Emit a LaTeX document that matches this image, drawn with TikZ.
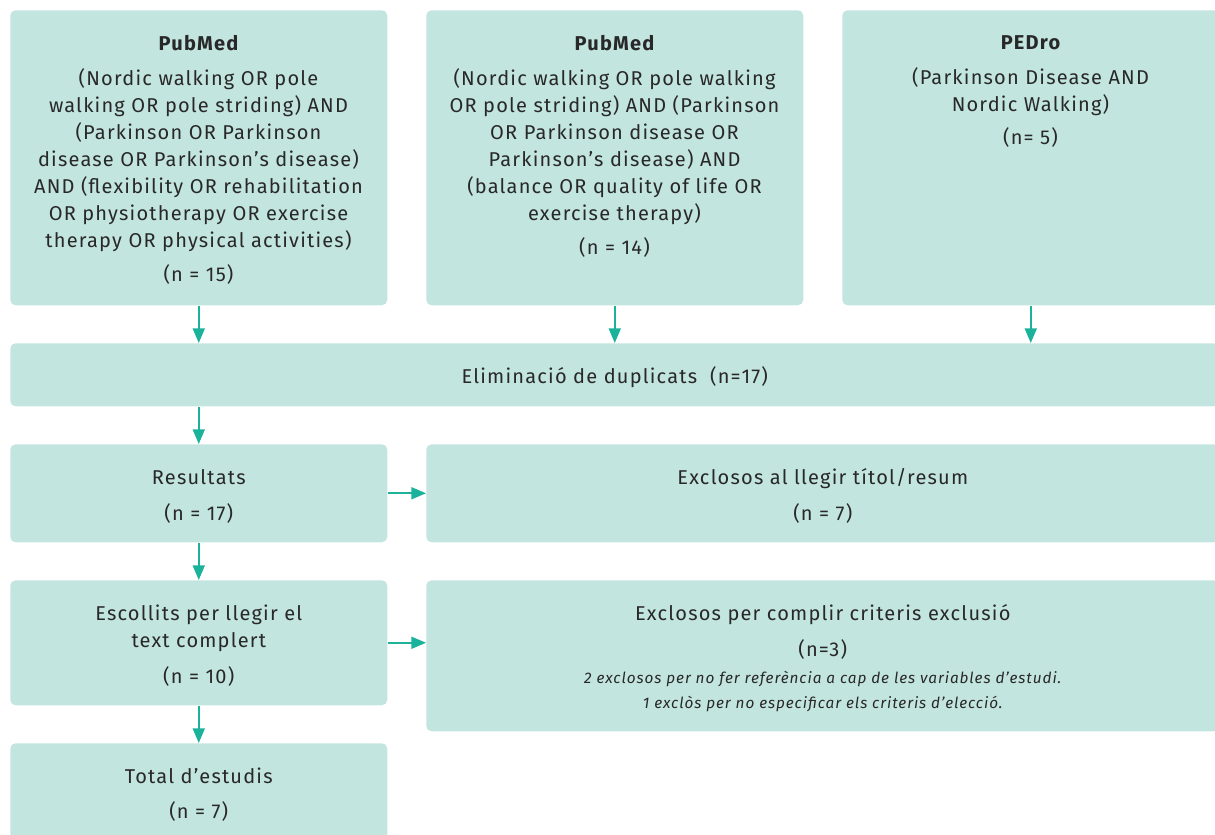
\documentclass[tikz,border=0pt]{standalone}
\usepackage{fontspec}
\setmainfont{Fira Sans}[LetterSpace=6]
\usetikzlibrary{arrows.meta}
\definecolor{boxfill}{RGB}{195,229,223}
\definecolor{flow}{RGB}{26,178,155}
\definecolor{ink}{RGB}{40,40,40}
\newcommand\exclnote{\fontsize{11.5}{18.75}\selectfont\itshape}% nota en cursiva
\newcommand\lowr{\rule{0pt}{16pt}}% baixa una mica el text
\tikzset{
  box/.style = {rectangle, rounded corners=4pt, fill=boxfill, draw=none,
    inner sep=0pt, anchor=north west, align=center, text=ink,
    font=\fontsize{15}{20.25}\selectfont},% caixa de fons
  topbox/.style = {box, minimum width=282.75pt, minimum height=221.25pt},% cerca
  sidebox/.style = {box, minimum width=594.75pt},% exclosos
  txt/.style = {align=center, inner sep=0pt, text=ink,
    font=\fontsize{15}{20.25}\selectfont}% text de les cerques
}

\begin{document}
\begin{tikzpicture}[x=0.75pt, y=-0.75pt,
  flowline/.style={draw=flow, line width=1.4pt,
    -{Triangle[length=11pt, width=9pt]}}]
\clip (0,0) rectangle (1215,835);

% cerques
\node [topbox] (pubmedA) at (10,10) {};
\node [topbox] (pubmedB) at (426,10) {};
\node [topbox] (pedro) at (842,10) {};
\node [txt, anchor=north] (queryA) at (198.5,35) {{\bfseries PubMed}\\[6pt]
  (Nordic walking OR pole\\ walking OR pole striding) AND\\
  (Parkinson OR Parkinson\\ disease OR Parkinson’s disease)\\
  AND (flexibility OR rehabilitation\\ OR physiotherapy OR exercise\\
  therapy OR physical activities)\\[5pt] (n = 15)};
\node [txt, anchor=north] (queryB) at (614.5,35) {{\bfseries PubMed}\\[6pt]
  (Nordic walking OR pole walking\\ OR pole striding) AND (Parkinson\\
  OR Parkinson disease OR\\ Parkinson’s disease) AND\\
  (balance OR quality of life OR\\ exercise therapy)\\[5pt] (n = 14)};
\node [txt, anchor=north] (queryC) at (1030.5,35) {{\bfseries PEDro}\\[6pt]
  (Parkinson Disease AND\\ Nordic Walking)\\[5pt] (n= 5)};

% cribratge
\node [box, minimum width=906.75pt, minimum height=47.25pt] (dupl) at (10,343)
  {\lowr Eliminació de duplicats\ \ (n=17)};
\node [box, minimum width=282.75pt, minimum height=73.5pt] (result) at (10,444)
  {\lowr Resultats\\[6.75pt] (n = 17)};
\node [sidebox, minimum height=73.5pt] (exclA) at (426,444)
  {\lowr Exclosos al llegir títol/resum\\[6.75pt] (n = 7)};
\node [box, minimum width=282.75pt, minimum height=93.75pt] (chosen) at (10,580)
  {\lowr Escollits per llegir el\\ text complert\\[6.75pt] (n = 10)};
\node [sidebox, minimum height=113.25pt] (exclB) at (426,580)
  {\lowr Exclosos per complir criteris exclusió\\[6.5pt] (n=3)\\[0pt]
  {\exclnote 2 exclosos per no fer referència a cap de les variables d’estudi.}\\[-1.5pt]
  {\exclnote 1 exclòs per no especificar els criteris d’elecció.}};
\node [box, minimum width=282.75pt, minimum height=73.5pt] (total) at (10,743)
  {\lowr Total d’estudis\\[6pt] (n = 7)};

% fletxes
\draw [flowline] (pubmedA.south) -- (pubmedA.south |- dupl.north);
\draw [flowline] (pubmedB.south) -- (pubmedB.south |- dupl.north);
\draw [flowline] (pedro.south) -- (pedro.south |- dupl.north);
\draw [flowline] (result.north |- dupl.south) -- (result.north);
\draw [flowline] (result.south) -- (chosen.north);
\draw [flowline] (chosen.south) -- (total.north);
\draw [flowline] (result.east) -- (result.east -| exclA.west);
\draw [flowline] (chosen.east) -- (chosen.east -| exclB.west);
\end{tikzpicture}
\end{document}
